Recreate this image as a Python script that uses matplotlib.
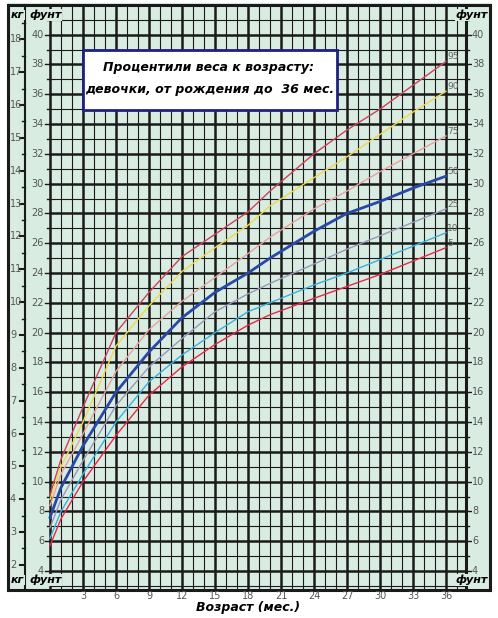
import matplotlib.pyplot as plt
from matplotlib.patches import Rectangle

# ages in months, weights in lb
months = [0, 1, 3, 6, 9, 12, 15, 18, 20, 24, 27, 30, 33, 36]
p95 = [9.1, 11.5, 15.0, 20.0, 22.7, 25.1, 26.6, 28.1, 29.5, 32.0, 33.6, 35.0, 36.6, 38.2]
p90 = [8.8, 11.0, 14.0, 19.1, 21.8, 24.1, 25.7, 27.2, 28.5, 30.4, 31.8, 33.3, 34.8, 36.2]
p75 = [8.4, 10.5, 13.2, 17.4, 20.2, 22.1, 23.7, 25.3, 26.4, 28.3, 29.5, 30.8, 32.0, 33.2]
p50 = [7.6, 9.6, 12.4, 16.0, 18.7, 21.0, 22.7, 24.0, 25.0, 26.8, 28.0, 28.8, 29.7, 30.5]
p25 = [6.9, 8.8, 11.4, 15.1, 17.7, 19.6, 21.4, 22.6, 23.3, 24.6, 25.6, 26.5, 27.4, 28.3]
p10 = [6.2, 8.0, 10.5, 14.0, 16.7, 18.5, 20.0, 21.4, 22.0, 23.2, 24.0, 24.9, 25.8, 26.7]
p5 = [5.7, 7.5, 10.0, 13.1, 15.8, 17.7, 19.2, 20.5, 21.2, 22.3, 23.1, 23.9, 24.8, 25.7]
labels = ["95", "90", "75", "50", "25", "10", "5"]
colors = ["#d0405a", "#f0d848", "#e8a0a0", "#2848a8", "#9898bc", "#38b0e0", "#e82848"]
month_ticks = list(range(3, 37, 3))
lb_ticks = list(range(4, 41, 2))
kg_ticks = list(range(2, 19))

PX_M, PX_LB = 11.0, 14.9


def px(x):
    return (x - 50) / PX_M


def py(y):
    return 4 + (571 - y) / PX_LB


BG = "#d9ece1"
fig = plt.figure(figsize=(4.98, 6.18), dpi=100)
ax = fig.add_axes([0, 0, 1, 1])
ax.set_xlim(px(0), px(498))
ax.set_ylim(py(618), py(0))
ax.axis("off")

ax.add_patch(Rectangle((px(8), py(590)), px(490) - px(8), py(3) - py(590), color=BG, zorder=0))

x0, x1 = 0, px(466)
y0, y1 = py(588), py(5)
# grid
for m in range(0, 38):
    heavy = m % 3 == 0
    ax.plot([m, m], [y0, y1], color="#1a1a1a", lw=1.8 if heavy else 0.8, zorder=1)
for v in range(3, 42):
    heavy = v % 2 == 0
    ax.plot([x0, x1], [v, v], color="#1a1a1a", lw=1.8 if heavy else 0.8, zorder=1)
# borders
for xb in [px(8), x1, px(490)]:
    ax.plot([xb, xb], [py(590), y1], color="#1a1a1a", lw=2.2, zorder=2)
ax.plot([px(8), px(490)], [py(590), py(590)], color="#1a1a1a", lw=2.2, zorder=2)
ax.plot([px(8), px(490)], [y1, y1], color="#1a1a1a", lw=2.2, zorder=2)

# left strip: kg scale
kx = px(25)
ax.plot([kx, kx], [py(588), y1], color="#1a1a1a", lw=1.5)
for k in kg_ticks:
    yk = k * 2.20462
    ax.plot([px(20), kx], [yk, yk], color="#1a1a1a", lw=1.5)
    ax.text(px(10), yk, str(k), ha="left", va="center", fontsize=7, color="#555555")
for k in range(2, 19):
    yk = (k + 0.5) * 2.20462
    if yk < y1:
        ax.plot([px(22), kx], [yk, yk], color="#1a1a1a", lw=1)
# lb tick marks on left and right strips
for v in range(4, 42):
    ln = 5 if v % 2 == 0 else 3
    ax.plot([px(50 - ln), 0], [v, v], color="#1a1a1a", lw=1)
    ax.plot([x1, px(466 + ln)], [v, v], color="#1a1a1a", lw=1)
for v in lb_ticks:
    ax.text(px(44), v, str(v), ha="right", va="center", fontsize=7, color="#555555",
            bbox=dict(facecolor=BG, edgecolor="none", pad=0.3))
    ax.text(px(472), v, str(v), ha="left", va="center", fontsize=7, color="#555555",
            bbox=dict(facecolor=BG, edgecolor="none", pad=0.3))

# month labels
for m in month_ticks:
    ax.text(m, py(596), str(m), ha="center", va="center", fontsize=7, color="#555555")
ax.text(18, py(608), "Возраст (мес.)", ha="center", va="center", fontsize=9,
        fontweight="bold", style="italic")

for xt, yt, t, ha in [(px(11), py(15), "кг", "left"), (px(29), py(15), "фунт", "left"),
                      (px(488), py(15), "фунт", "right"),
                      (px(11), py(580), "кг", "left"), (px(29), py(580), "фунт", "left"),
                      (px(488), py(580), "фунт", "right")]:
    ax.text(xt, yt, t, ha=ha, va="center", fontsize=8, fontweight="bold", style="italic",
            bbox=dict(facecolor=BG, edgecolor="none", pad=0.3), zorder=5)

# curves
series = [p95, p90, p75, p50, p25, p10, p5]
for vals, lab, c in zip(series, labels, colors):
    ax.plot(months, vals, color=c, lw=2.0 if lab == "50" else 1.0, zorder=3)
    ax.text(36.1, vals[-1] + 0.3, lab, fontsize=6.5, color="#666666", ha="left", va="center",
            zorder=4)

# title box
ax.add_patch(Rectangle((px(83), py(110)), px(337) - px(83), py(50) - py(110),
                       facecolor="white", edgecolor="#202080", lw=2, zorder=5))
ax.text(px(208), py(68), "Процентили веса к возрасту:", ha="center", va="center",
        fontsize=9, fontweight="bold", style="italic", zorder=6)
ax.text(px(210), py(90), "девочки, от рождения до  36 мес.", ha="center", va="center",
        fontsize=9, fontweight="bold", style="italic", zorder=6)

fig.savefig("out.png", dpi=100)
